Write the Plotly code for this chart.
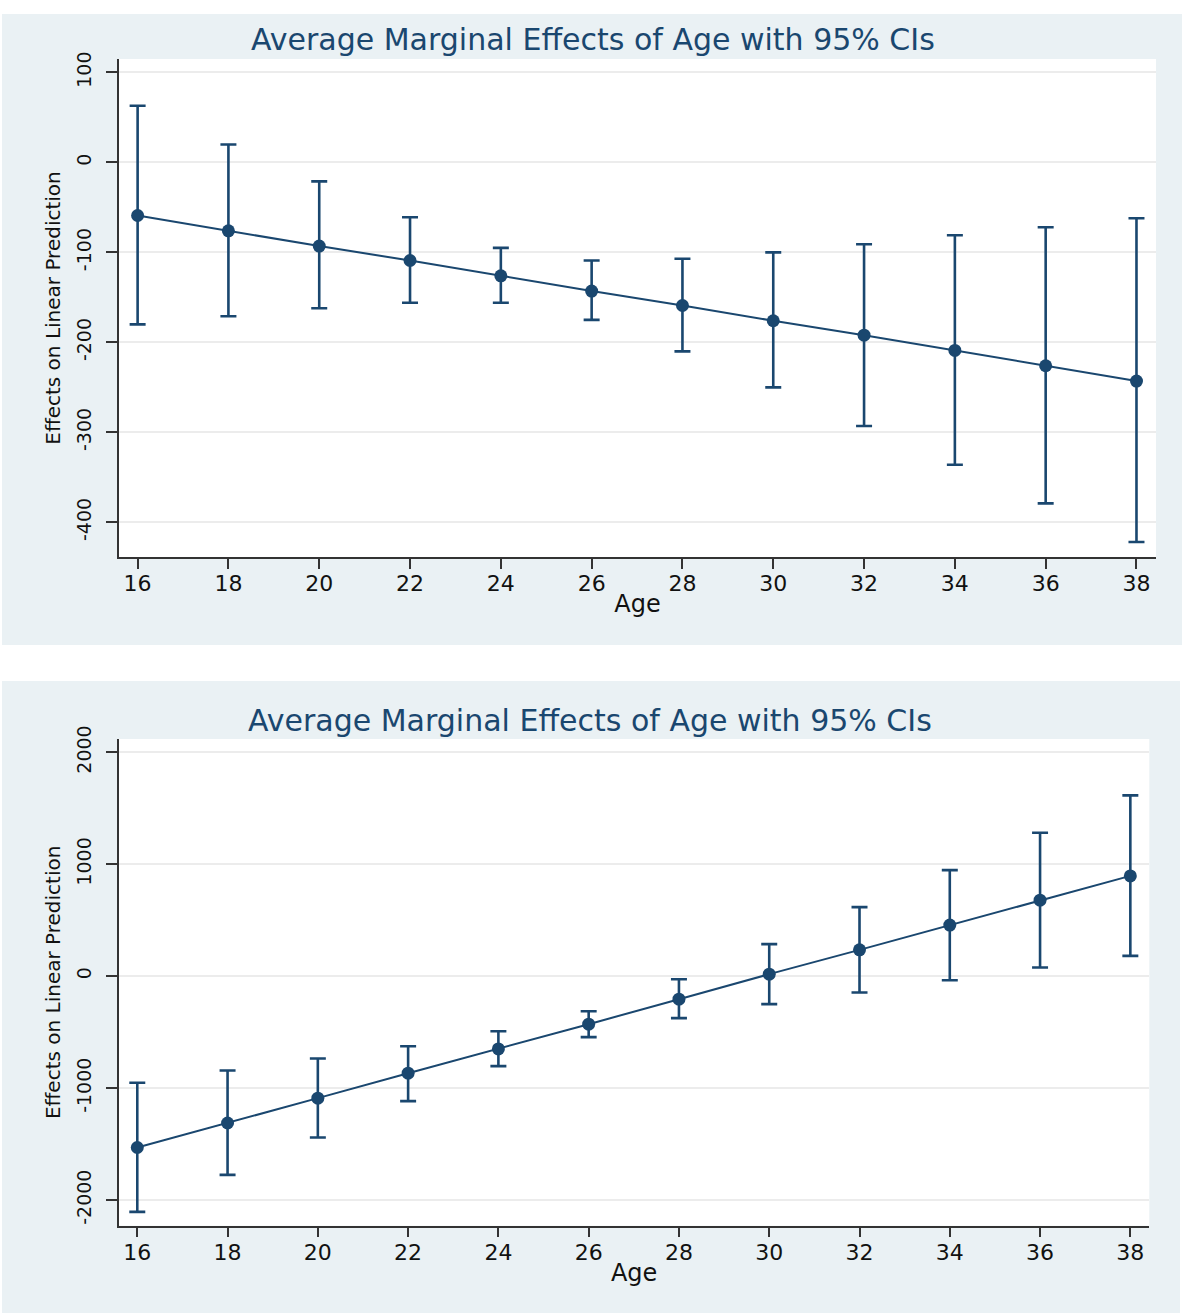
import plotly.graph_objects as go

# ---------------- data ----------------
ages = [16, 18, 20, 22, 24, 26, 28, 30, 32, 34, 36, 38]

top_effect = [-59, -76, -93, -109, -126, -143, -159, -176, -192, -209, -226, -243]
top_lower = [-180, -171, -162, -156, -156, -175, -210, -250, -293, -336, -379, -422]
top_upper = [63, 20, -21, -61, -95, -109, -107, -100, -91, -81, -72, -62]

bot_effect = [-1531, -1312, -1090, -867, -650, -429, -206, 18, 235, 456, 679, 896]
bot_lower = [-2106, -1776, -1442, -1117, -804, -545, -375, -250, -146, -36, 78, 181]
bot_upper = [-953, -843, -736, -626, -492, -313, -27, 286, 617, 947, 1281, 1615]

top_yticks = [-400, -300, -200, -100, 0, 100]
top_yticktext = ["-400", "-300", "-200", "-100", "0", "100"]
bot_yticks = [-2000, -1000, 0, 1000, 2000]
bot_yticktext = ["-2000", "-1000", "0", "1000", "2000"]

title_text = "Average Marginal Effects of Age with 95% CIs"
x_title = "Age"
y_title = "Effects on Linear Prediction"

# ---------------- styling ----------------
W, H = 1182, 1313
TOP_SHIFT = 14            # picture shows the page starting this far down
VISIBLE_H = H - TOP_SHIFT  # and squeezed into this height
NAVY = "#1A476F"
PANEL = "#EAF1F4"
AXIS = "#333333"
GRID = "#ECECEC"
FONT = "DejaVu Sans"

fig = go.Figure()


def add_series(effect, lower, upper, xa, ya):
    fig.add_trace(go.Scatter(
        x=ages, y=effect, mode="lines+markers",
        line=dict(color=NAVY, width=2),
        marker=dict(color=NAVY, size=13),
        error_y=dict(type="data", symmetric=False,
                     array=[u - e for u, e in zip(upper, effect)],
                     arrayminus=[e - l for e, l in zip(effect, lower)],
                     color=NAVY, thickness=2.6, width=8),
        xaxis=xa, yaxis=ya, showlegend=False,
        hovertemplate="Age %{x}: %{y}<extra></extra>",
    ))


add_series(top_effect, top_lower, top_upper, "x", "y")
add_series(bot_effect, bot_lower, bot_upper, "x2", "y2")


def px_y(y):
    """picture y (px from top) -> paper fraction"""
    return min(1.0, max(0.0, 1 - (y - TOP_SHIFT) / VISIBLE_H))


def xaxis_cfg(left, right, rng, anchor):
    return dict(
        domain=[left / W, right / W], range=rng, anchor=anchor,
        tickmode="array", tickvals=ages,
        ticks="outside", ticklen=10, tickwidth=1.5, tickcolor=AXIS,
        showline=True, linecolor=AXIS, linewidth=1.5, mirror=False,
        showgrid=False, zeroline=False,
        tickfont=dict(family=FONT, size=22, color="#111111"),
        ticklabelstandoff=-4,
        title=dict(text=x_title, font=dict(family=FONT, size=24, color="#111111"), standoff=0),
    )


def yaxis_cfg(top, bottom, rng, anchor, tv, tt):
    return dict(
        domain=[px_y(bottom), px_y(top)], range=rng, anchor=anchor,
        tickmode="array", tickvals=tv, ticktext=tt, tickangle=-90,
        ticks="outside", ticklen=11, tickwidth=1.5, tickcolor=AXIS,
        showline=True, linecolor=AXIS, linewidth=1.5, mirror=False,
        showgrid=True, gridcolor=GRID, gridwidth=1.5, zeroline=False,
        tickfont=dict(family=FONT, size=19, color="#111111"),
        ticklabelstandoff=8,
        title=dict(text=y_title, font=dict(family=FONT, size=20, color="#111111"), standoff=7),
    )


fig.update_layout(
    width=W, height=H,
    margin=dict(l=0, r=0, t=0, b=0),
    paper_bgcolor="white", plot_bgcolor="white",
    xaxis=xaxis_cfg(119, 1156, [15.59, 38.43], "y"),
    yaxis=yaxis_cfg(59, 557, [-438.6, 115], "x", top_yticks, top_yticktext),
    xaxis2=xaxis_cfg(119, 1149.3, [15.595, 38.42], "y2"),
    yaxis2=yaxis_cfg(739, 1225.7, [-2229.7, 2119], "x2", bot_yticks, bot_yticktext),
    shapes=[
        dict(type="rect", xref="paper", yref="paper", x0=2 / W, x1=1, y0=px_y(645), y1=1,
             fillcolor=PANEL, line=dict(width=0), layer="below"),
        dict(type="rect", xref="paper", yref="paper", x0=2 / W, x1=1180 / W, y0=0, y1=px_y(681),
             fillcolor=PANEL, line=dict(width=0), layer="below"),
        dict(type="rect", xref="x domain", yref="y domain", x0=0, x1=1, y0=0, y1=1,
             fillcolor="white", line=dict(width=0), layer="below"),
        dict(type="rect", xref="x2 domain", yref="y2 domain", x0=0, x1=1, y0=0, y1=1,
             fillcolor="white", line=dict(width=0), layer="below"),
    ],
    annotations=[
        dict(text=title_text, xref="paper", yref="paper", x=593 / W, y=px_y(40),
             xanchor="center", yanchor="middle", showarrow=False,
             font=dict(family=FONT, size=30, color=NAVY)),
        dict(text=title_text, xref="paper", yref="paper", x=590 / W, y=px_y(720),
             xanchor="center", yanchor="middle", showarrow=False,
             font=dict(family=FONT, size=30, color=NAVY)),
    ],
)

fig.write_html(
    "out.html",
    config={"displayModeBar": False},
    post_script="document.body.style.margin='0px';document.body.style.overflow='hidden';",
)
